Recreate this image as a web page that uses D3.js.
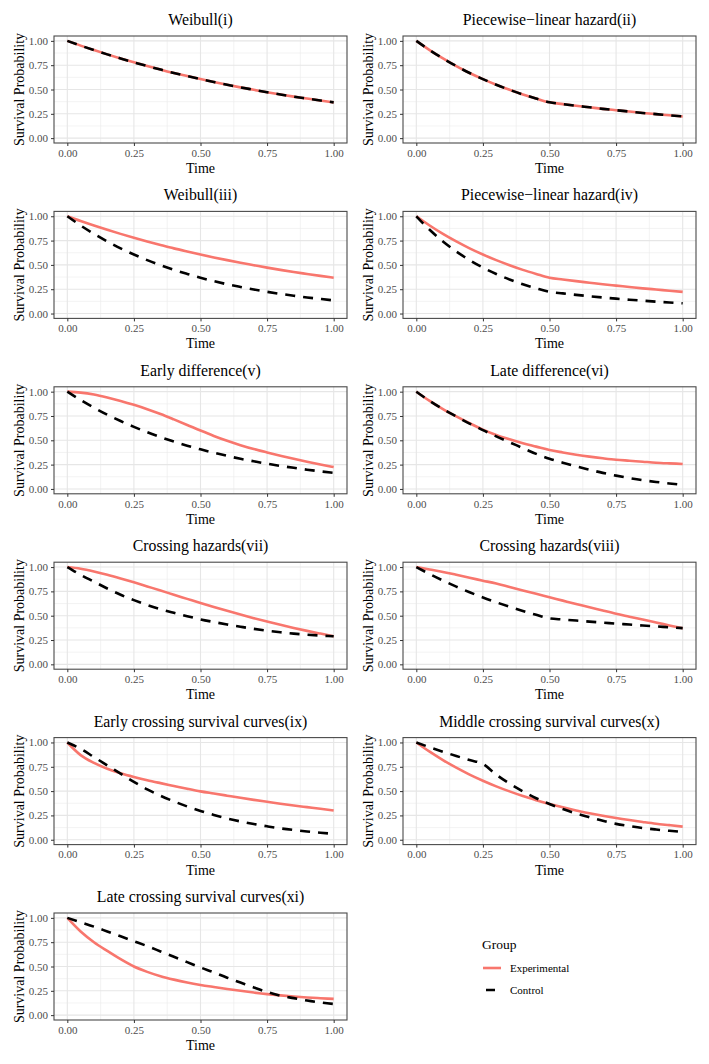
<!DOCTYPE html>
<html><head><meta charset="utf-8">
<script src="https://cdn.jsdelivr.net/npm/d3@7"></script>
<style>
body{margin:0;background:#fff}
svg{display:block}
text{font-family:"Liberation Serif","Times New Roman",Times,serif}
</style>
</head><body>
<svg id="chart" width="709" height="1064"></svg>
<script>
// ---- data ----
const time = [0,0.05,0.1,0.15,0.2,0.25,0.3,0.35,0.4,0.45,0.5,0.55,0.6,0.65,0.7,0.75,0.8,0.85,0.9,0.95,1];
const titles = ["Weibull(i)","Piecewise\u2212linear hazard(ii)","Weibull(iii)","Piecewise\u2212linear hazard(iv)",
  "Early difference(v)","Late difference(vi)","Crossing hazards(vii)","Crossing hazards(viii)",
  "Early crossing survival curves(ix)","Middle crossing survival curves(x)","Late crossing survival curves(xi)"];
const groups = ["Experimental","Control"];
const tickValues = [0,0.25,0.5,0.75,1];
const tickLabels = ["0.00","0.25","0.50","0.75","1.00"];
const minorTicks = [0.125,0.375,0.625,0.875];

const exp1 = [1,.951,.905,.861,.819,.779,.741,.705,.670,.638,.607,.577,.549,.522,.497,.472,.449,.427,.407,.387,.368];
const ctl1 = [1,.951,.905,.861,.819,.779,.741,.705,.670,.638,.607,.577,.549,.522,.497,.472,.449,.427,.407,.387,.368];
const exp2 = [1,.905,.819,.741,.670,.607,.549,.497,.449,.407,.368,.350,.333,.317,.301,.287,.273,.259,.247,.235,.223];
const ctl2 = [1,.905,.819,.741,.670,.607,.549,.497,.449,.407,.368,.350,.333,.317,.301,.287,.273,.259,.247,.235,.223];
const exp3 = [1,.951,.905,.861,.819,.779,.741,.705,.670,.638,.607,.577,.549,.522,.497,.472,.449,.427,.407,.387,.368];
const ctl3 = [1,.905,.819,.741,.670,.607,.549,.497,.449,.407,.368,.333,.301,.273,.247,.223,.202,.183,.165,.150,.135];
const exp4 = [1,.905,.819,.741,.670,.607,.549,.497,.449,.407,.368,.350,.333,.317,.301,.287,.273,.259,.247,.235,.223];
const ctl4 = [1,.861,.741,.638,.549,.472,.407,.350,.301,.259,.223,.207,.192,.178,.165,.153,.142,.132,.122,.114,.105];
const exp5 = [1,.99,.97,.94,.905,.865,.82,.77,.715,.658,.60,.545,.495,.45,.41,.375,.342,.31,.28,.252,.225];
const ctl5 = [1,.914,.835,.763,.698,.638,.583,.533,.487,.445,.407,.372,.340,.310,.284,.259,.237,.217,.198,.181,.165];
const exp6 = [1,.905,.82,.745,.675,.61,.555,.51,.47,.435,.40,.375,.352,.332,.315,.30,.29,.28,.27,.263,.257];
const ctl6 = [1,.905,.82,.745,.672,.605,.54,.48,.42,.36,.31,.27,.232,.198,.165,.137,.112,.09,.072,.056,.042];
const exp7 = [1,.983,.955,.921,.883,.843,.801,.759,.715,.673,.631,.590,.550,.512,.475,.440,.406,.374,.344,.316,.289];
const ctl7 = [1,.92,.85,.78,.715,.66,.61,.567,.53,.495,.462,.435,.41,.387,.365,.346,.33,.316,.305,.296,.288];
const exp8 = [1,.975,.95,.92,.89,.86,.83,.795,.76,.725,.69,.655,.62,.587,.553,.52,.49,.46,.43,.40,.37];
const ctl8 = [1,.928,.861,.799,.741,.687,.638,.592,.549,.509,.472,.461,.450,.439,.429,.419,.409,.399,.390,.381,.372];
const exp9 = [1,.87,.79,.73,.683,.645,.612,.582,.553,.524,.497,.475,.453,.431,.41,.39,.37,.352,.335,.318,.30];
const ctl9 = [1,.935,.85,.765,.68,.595,.517,.452,.394,.342,.296,.255,.219,.188,.161,.138,.117,.100,.085,.072,.061];
const exp10 = [1,.905,.819,.741,.670,.607,.549,.497,.449,.407,.368,.333,.301,.273,.247,.223,.202,.183,.165,.150,.135];
const ctl10 = [1,.951,.905,.861,.819,.779,.670,.577,.497,.427,.368,.315,.27,.232,.195,.163,.14,.12,.105,.092,.08];
const exp11 = [1,.86,.75,.66,.575,.50,.445,.40,.365,.335,.31,.289,.269,.25,.232,.216,.203,.192,.182,.174,.167];
const ctl11 = [1,.955,.91,.86,.81,.76,.71,.655,.60,.545,.49,.44,.385,.335,.285,.238,.20,.175,.15,.13,.115];

const expSeries = [exp1,exp2,exp3,exp4,exp5,exp6,exp7,exp8,exp9,exp10,exp11];
const ctlSeries = [ctl1,ctl2,ctl3,ctl4,ctl5,ctl6,ctl7,ctl8,ctl9,ctl10,ctl11];

// ---- layout / style ----
const colX0 = [54, 403], panelW = 293, panelH = 107, top0 = 36, rowStep = 175.4;
const colors = {Experimental:"#F8766D", Control:"#000000"};
const dash = {Experimental:null, Control:"10,8"};
const lw = 2.6;
const FONT = '"Liberation Serif","Times New Roman",serif';

const svg = d3.select("#chart");

titles.forEach((title, i) => {
  const col = i % 2, row = Math.floor(i / 2);
  const x0 = colX0[col], y0 = top0 + row * rowStep;
  const g = svg.append("g").attr("transform", `translate(${x0},${y0})`);
  const x = d3.scaleLinear().domain([-0.05, 1.05]).range([0, panelW]);
  const y = d3.scaleLinear().domain([-0.05, 1.05]).range([panelH, 0]);

  // grid
  g.selectAll(".minx").data(minorTicks).join("line")
    .attr("x1", d => x(d)).attr("x2", d => x(d)).attr("y1", 0).attr("y2", panelH)
    .attr("stroke", "#ebebeb").attr("stroke-width", 0.6);
  g.selectAll(".miny").data(minorTicks).join("line")
    .attr("y1", d => y(d)).attr("y2", d => y(d)).attr("x1", 0).attr("x2", panelW)
    .attr("stroke", "#ebebeb").attr("stroke-width", 0.6);
  g.selectAll(".majx").data(tickValues).join("line")
    .attr("x1", d => x(d)).attr("x2", d => x(d)).attr("y1", 0).attr("y2", panelH)
    .attr("stroke", "#e6e6e6").attr("stroke-width", 1.1);
  g.selectAll(".majy").data(tickValues).join("line")
    .attr("y1", d => y(d)).attr("y2", d => y(d)).attr("x1", 0).attr("x2", panelW)
    .attr("stroke", "#e6e6e6").attr("stroke-width", 1.1);

  // lines
  const line = d3.line().x((d, j) => x(time[j])).y(d => y(d)).curve(d3.curveMonotoneX);
  [["Experimental", expSeries[i]], ["Control", ctlSeries[i]]].forEach(([grp, vals]) => {
    g.append("path").datum(vals).attr("d", line)
      .attr("fill", "none").attr("stroke", colors[grp]).attr("stroke-width", lw)
      .attr("stroke-dasharray", dash[grp]);
  });

  // border
  g.append("rect").attr("x", 0).attr("y", 0).attr("width", panelW).attr("height", panelH)
    .attr("fill", "none").attr("stroke", "#4a4a4a").attr("stroke-width", 1.1);

  // axes
  const xAxis = d3.axisBottom(x).tickValues(tickValues).tickFormat((d, k) => tickLabels[k]).tickSize(3).tickPadding(3);
  const ax = g.append("g").attr("transform", `translate(0,${panelH})`).call(xAxis);
  ax.select(".domain").remove();
  ax.selectAll("line").attr("stroke", "#333");
  ax.selectAll("text").attr("font-size", 11).attr("fill", "#4d4d4d").attr("font-family", FONT);
  const yAxis = d3.axisLeft(y).tickValues(tickValues).tickFormat((d, k) => tickLabels[k]).tickSize(3).tickPadding(3);
  const ay = g.append("g").call(yAxis);
  ay.select(".domain").remove();
  ay.selectAll("line").attr("stroke", "#333");
  ay.selectAll("text").attr("font-size", 11).attr("fill", "#4d4d4d").attr("font-family", FONT);

  // titles
  g.append("text").attr("x", panelW / 2).attr("y", -11).attr("text-anchor", "middle")
    .attr("font-size", 15.8).attr("fill", "#000").text(title);
  g.append("text").attr("x", panelW / 2).attr("y", panelH + 30).attr("text-anchor", "middle")
    .attr("font-size", 14).attr("fill", "#000").text("Time");
  g.append("text").attr("transform", `translate(-35,${panelH / 2}) rotate(-90)`)
    .attr("text-anchor", "middle").attr("dominant-baseline", "central")
    .attr("font-size", 14).attr("fill", "#000").text("Survival Probability");
});

// legend
const lg = svg.append("g").attr("transform", "translate(482,0)");
lg.append("text").attr("x", 0).attr("y", 949).attr("font-size", 13.5).attr("fill", "#000").text("Group");
groups.forEach((grp, k) => {
  const yy = 968 + k * 22;
  lg.append("line").attr("x1", 1).attr("x2", 19).attr("y1", yy).attr("y2", yy)
    .attr("stroke", colors[grp]).attr("stroke-width", lw)
    .attr("stroke-dasharray", grp === "Control" ? "0,3,9,20" : null);
  lg.append("text").attr("x", 28).attr("y", yy).attr("dominant-baseline", "central")
    .attr("font-size", 11).attr("fill", "#000").text(grp);
});
</script>
</body></html>
